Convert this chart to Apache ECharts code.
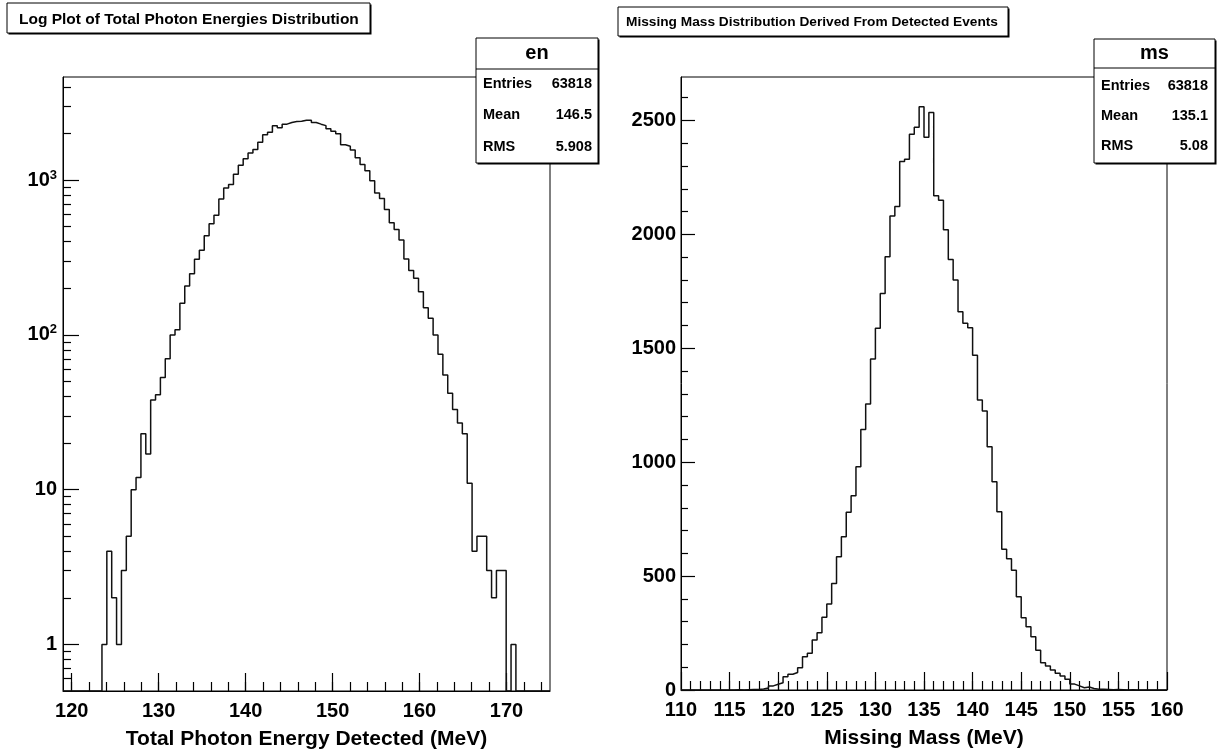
<!DOCTYPE html>
<html>
<head>
<meta charset="utf-8">
<script src="https://cdn.jsdelivr.net/npm/echarts@6/dist/echarts.min.js"></script>
<style>html,body{margin:0;padding:0;background:#fff}#c{width:1224px;height:756px}</style>
</head>
<body>
<div id="c"></div>
<script>
// ---------------- data ----------------
// Left: total photon energy, 100 bins from 119 to 175 MeV (log y)
const enRange = [119, 175];
const enCounts = [
  0, 0, 0, 0, 0, 0, 0, 0, 1, 4,
  2, 1, 3, 5, 10, 12, 23, 17, 38, 41,
  53, 70, 100, 108, 160, 207, 248, 308, 353, 437,
  523, 594, 755, 891, 936, 1090, 1250, 1374, 1500, 1578,
  1755, 1968, 2040, 2250, 2180, 2300, 2360, 2390, 2400, 2440,
  2440, 2360, 2300, 2250, 2150, 2070, 1995, 1695, 1654, 1565,
  1395, 1260, 1150, 990, 825, 760, 645, 530, 480, 410,
  309, 261, 232, 190, 150, 128, 100, 75, 55, 42,
  33, 27, 23, 11, 4, 5, 5, 3, 2, 3,
  3, 0, 1, 0, 0, 0, 0, 0, 0, 0
];
// Right: missing mass, 100 bins from 110 to 160 MeV (linear y)
const msRange = [110, 160];
const msCounts = [
  0, 0, 0, 0, 0, 0, 0, 0, 0, 0,
  0, 1, 0, 1, 2, 2, 4, 9, 18, 25,
  32, 58, 69, 77, 98, 146, 161, 219, 251, 319,
  377, 468, 585, 673, 780, 853, 980, 1144, 1255, 1453,
  1588, 1741, 1902, 2081, 2122, 2320, 2330, 2440, 2470, 2560,
  2427, 2535, 2170, 2150, 2020, 1890, 1800, 1660, 1610, 1590,
  1470, 1273, 1225, 1068, 914, 783, 618, 576, 526, 409,
  317, 278, 234, 175, 120, 105, 88, 73, 61, 47,
  26, 18, 10, 13, 7, 3, 3, 2, 1, 2,
  1, 0, 1, 0, 0, 0, 0, 0, 0, 0
];

const enXTicks = [120, 130, 140, 150, 160, 170];
const enXMinor = [120,122,124,126,128,130,132,134,136,138,140,142,144,146,148,150,152,154,156,158,160,162,164,166,168,170,172,174];
const enYRange = [0.5, 4640];
const enYTicks = [1, 10, 100, 1000];
const enYMinor = [0.6,0.7,0.8,0.9,2,3,4,5,6,7,8,9,20,30,40,50,60,70,80,90,200,300,400,500,600,700,800,900,2000,3000,4000];

const msXTicks = [110, 115, 120, 125, 130, 135, 140, 145, 150, 155, 160];
const msXMinor = [];
for (let v = 111; v < 160; v++) msXMinor.push(v);
const msYRange = [0, 2691];
const msYTicks = [0, 500, 1000, 1500, 2000, 2500];
const msYMinor = [100,200,300,400,600,700,800,900,1100,1200,1300,1400,1600,1700,1800,1900,2100,2200,2300,2400,2600];

const enTitle = 'Log Plot of Total Photon Energies Distribution';
const msTitle = 'Missing Mass Distribution Derived From Detected Events';
const enXName = 'Total Photon Energy Detected (MeV)';
const msXName = 'Missing Mass (MeV)';
const enStatName = 'en';
const msStatName = 'ms';
const enStats = [['Entries', '63818'], ['Mean', '146.5'], ['RMS', '5.908']];
const msStats = [['Entries', '63818'], ['Mean', '135.1'], ['RMS', '5.08']];

// ---------------- build ----------------
const FONT = '"Liberation Sans", Arial, Helvetica, sans-serif';
function stepData(range, counts, floor) {
  const w = (range[1] - range[0]) / counts.length;
  const pts = counts.map((c, i) => [range[0] + i * w, Math.max(c, floor)]);
  pts.push([range[1], Math.max(counts[counts.length - 1], floor)]);
  return pts;
}

const axisCommon = {
  splitLine: { show: false },
  axisLine: { show: true, onZero: false, lineStyle: { color: '#000', width: 1 } }
};
const labelStyle = { color: '#000', fontWeight: 'bold', fontFamily: FONT, fontSize: 20 };
const plainFmt = v => String(v);

function supFmt(v) {
  if (v === 1) return '1';
  if (v === 10) return '10';
  const p = Math.round(Math.log10(v));
  return '10{sup|' + p + '}';
}

const chart = echarts.init(document.getElementById('c'), null, { renderer: 'canvas' });

function statBox(x, y, w, h, sepY, name, stats, rowYs, lx, rx) {
  const els = [];
  els.push({ type: 'rect', z: 100, shape: { x: x + 1.5, y: y + 1.5, width: w, height: h }, style: { fill: '#000' } });
  els.push({ type: 'rect', z: 101, shape: { x: x, y: y, width: w, height: h }, style: { fill: '#fff', stroke: '#000', lineWidth: 1 } });
  els.push({ type: 'line', z: 102, shape: { x1: x, y1: sepY, x2: x + w, y2: sepY }, style: { stroke: '#000', lineWidth: 1 } });
  els.push({ type: 'text', z: 103, style: { text: name, x: x + w / 2, y: (y + sepY) / 2, font: 'bold 20px ' + FONT, fill: '#000', align: 'center', verticalAlign: 'middle', textAlign: 'center', textVerticalAlign: 'middle' } });
  stats.forEach((s, i) => {
    els.push({ type: 'text', z: 103, style: { text: s[0], x: lx, y: rowYs[i], font: 'bold 14.5px ' + FONT, fill: '#000', align: 'left', verticalAlign: 'middle', textAlign: 'left', textVerticalAlign: 'middle' } });
    els.push({ type: 'text', z: 103, style: { text: s[1], x: rx, y: rowYs[i], font: 'bold 14.5px ' + FONT, fill: '#000', align: 'right', verticalAlign: 'middle', textAlign: 'right', textVerticalAlign: 'middle' } });
  });
  return els;
}
function titleBox(x, y, w, h, text, size, tx, ty) {
  return [
    { type: 'rect', z: 100, shape: { x: x + 1.5, y: y + 1.5, width: w, height: h }, style: { fill: '#000' } },
    { type: 'rect', z: 101, shape: { x: x, y: y, width: w, height: h }, style: { fill: '#fff', stroke: '#000', lineWidth: 1 } },
    { type: 'text', z: 103, style: { text: text, x: tx, y: ty, font: 'bold ' + size + 'px ' + FONT, fill: '#000', align: 'left', verticalAlign: 'middle', textAlign: 'left', textVerticalAlign: 'middle' } }
  ];
}

const option = {
  animation: false,
  backgroundColor: '#fff',
  grid: [
    { left: 63, top: 77, width: 487, height: 614, show: true, borderColor: '#000', borderWidth: 1, backgroundColor: 'transparent' },
    { left: 681, top: 77, width: 486, height: 613, show: true, borderColor: '#000', borderWidth: 1, backgroundColor: 'transparent' }
  ],
  xAxis: [
    Object.assign({}, axisCommon, {
      gridIndex: 0, type: 'value', min: enRange[0], max: enRange[1], position: 'bottom',
      axisTick: { show: true, inside: true, length: 18, customValues: enXTicks, lineStyle: { color: '#000', width: 1.2 } },
      axisLabel: Object.assign({ customValues: enXTicks, margin: 10, formatter: plainFmt }, labelStyle),
      name: enXName, nameLocation: 'middle', nameGap: 38,
      nameTextStyle: { color: '#000', fontWeight: 'bold', fontFamily: FONT, fontSize: 21 }
    }),
    {
      gridIndex: 0, type: 'value', min: enRange[0], max: enRange[1], position: 'bottom',
      axisLine: { show: false }, splitLine: { show: false }, axisLabel: { show: false },
      axisTick: { show: true, inside: true, length: 9, customValues: enXMinor, lineStyle: { color: '#000', width: 1.2 } }
    },
    Object.assign({}, axisCommon, {
      gridIndex: 1, type: 'value', min: msRange[0], max: msRange[1], position: 'bottom',
      axisTick: { show: true, inside: true, length: 18, customValues: msXTicks, lineStyle: { color: '#000', width: 1.2 } },
      axisLabel: Object.assign({ customValues: msXTicks, margin: 10, formatter: plainFmt }, labelStyle),
      name: msXName, nameLocation: 'middle', nameGap: 38,
      nameTextStyle: { color: '#000', fontWeight: 'bold', fontFamily: FONT, fontSize: 21 }
    }),
    {
      gridIndex: 1, type: 'value', min: msRange[0], max: msRange[1], position: 'bottom',
      axisLine: { show: false }, splitLine: { show: false }, axisLabel: { show: false },
      axisTick: { show: true, inside: true, length: 9, customValues: msXMinor, lineStyle: { color: '#000', width: 1.2 } }
    }
  ],
  yAxis: [
    Object.assign({}, axisCommon, {
      gridIndex: 0, type: 'log', logBase: 10, min: enYRange[0], max: enYRange[1], position: 'left',
      axisTick: { show: true, inside: true, length: 16, customValues: enYTicks, lineStyle: { color: '#000', width: 1.2 } },
      axisLabel: Object.assign({
        customValues: enYTicks, margin: 6, formatter: supFmt,
        rich: { sup: { fontSize: 13, fontWeight: 'bold', fontFamily: FONT, color: '#000', verticalAlign: 'top', padding: [0, 0, 10, 0] } }
      }, labelStyle)
    }),
    {
      gridIndex: 0, type: 'log', logBase: 10, min: enYRange[0], max: enYRange[1], position: 'left',
      axisLine: { show: false }, splitLine: { show: false }, axisLabel: { show: false },
      axisTick: { show: true, inside: true, length: 8, customValues: enYMinor, lineStyle: { color: '#000', width: 1.2 } }
    },
    Object.assign({}, axisCommon, {
      gridIndex: 1, type: 'value', min: msYRange[0], max: msYRange[1], position: 'left',
      axisTick: { show: true, inside: true, length: 14, customValues: msYTicks, lineStyle: { color: '#000', width: 1.2 } },
      axisLabel: Object.assign({ customValues: msYTicks, margin: 5, formatter: plainFmt }, labelStyle)
    }),
    {
      gridIndex: 1, type: 'value', min: msYRange[0], max: msYRange[1], position: 'left',
      axisLine: { show: false }, splitLine: { show: false }, axisLabel: { show: false },
      axisTick: { show: true, inside: true, length: 7, customValues: msYMinor, lineStyle: { color: '#000', width: 1.2 } }
    }
  ],
  series: [
    {
      type: 'line', xAxisIndex: 0, yAxisIndex: 0, step: 'end', symbol: 'none', clip: true,
      data: stepData(enRange, enCounts, enYRange[0]),
      lineStyle: { color: '#111', width: 1.5 }
    },
    {
      type: 'line', xAxisIndex: 2, yAxisIndex: 2, step: 'end', symbol: 'none', clip: true,
      data: stepData(msRange, msCounts, 0),
      lineStyle: { color: '#111', width: 1.5 }
    }
  ],
  graphic: [].concat(
    titleBox(7, 3, 363, 30, enTitle, 15.5, 19, 20),
    titleBox(618, 7, 390, 29, msTitle, 13.7, 626, 22),
    statBox(476, 38, 122, 125, 69, enStatName, enStats, [84, 115, 147], 483, 592),
    statBox(1094, 39, 121, 124, 68, msStatName, msStats, [86, 116, 146], 1101, 1208)
  )
};
chart.setOption(option);
</script>
</body>
</html>
